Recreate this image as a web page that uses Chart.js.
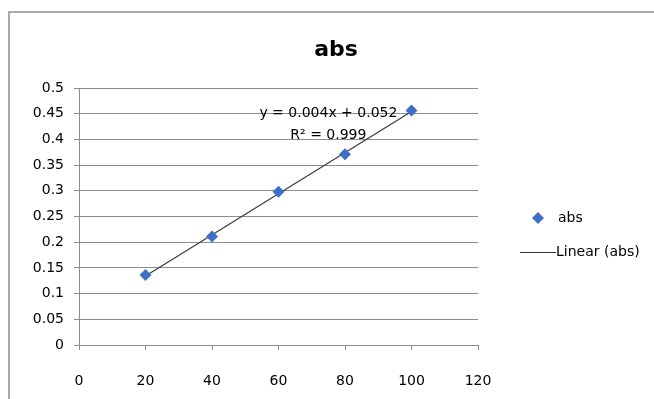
<!DOCTYPE html>
<html>
<head>
<meta charset="utf-8">
<script src="https://cdn.jsdelivr.net/npm/chart.js@4.4.0/dist/chart.umd.min.js"></script>
<style>
  body { margin: 0; background: #ffffff; }
  #wrap { position: relative; width: 654px; height: 399px; }
</style>
</head>
<body>
<div id="wrap"><canvas id="absChart" width="654" height="399"></canvas></div>
<script>
    // Données
    const concentrations = [20, 40, 60, 80, 100];
    const absValues = [0.136, 0.211, 0.298, 0.371, 0.456];
    const trendLabels = ['y = 0.004x + 0.052', 'R\u00b2 = 0.999'];
    const legendLabels = ['abs', 'Linear (abs)'];

    const FONT = "'DejaVu Sans', sans-serif";
    const GRID = '#8c8c8c';
    const BLUE = '#3d6fc8';

    // Régression linéaire (courbe de tendance)
    const n = concentrations.length;
    const mx = concentrations.reduce((a, b) => a + b, 0) / n;
    const my = absValues.reduce((a, b) => a + b, 0) / n;
    let sxy = 0, sxx = 0;
    concentrations.forEach((x, i) => {
        sxy += (x - mx) * (absValues[i] - my);
        sxx += (x - mx) * (x - mx);
    });
    const slope = sxy / sxx;
    const intercept = my - slope * mx;
    const xMin = Math.min(...concentrations);
    const xMax = Math.max(...concentrations);

    // Cadre, légende et équation
    const extras = {
        id: 'extras',
        beforeDraw(chart) {
            const ctx = chart.ctx;
            ctx.save();
            ctx.strokeStyle = '#a9a9a9';
            ctx.lineWidth = 2;
            ctx.beginPath();
            ctx.moveTo(9, 399);
            ctx.lineTo(9, 12);
            ctx.lineTo(654, 12);
            ctx.stroke();
            ctx.restore();
        },
        afterDraw(chart) {
            const ctx = chart.ctx;
            const xs = chart.scales.x, ys = chart.scales.y;
            ctx.save();
            ctx.fillStyle = '#000000';
            ctx.font = '14px ' + FONT;
            ctx.textAlign = 'center';
            ctx.textBaseline = 'middle';
            const cx = xs.getPixelForValue(75);
            ctx.fillText(trendLabels[0], cx, ys.getPixelForValue(0.4515));
            ctx.fillText(trendLabels[1], cx, ys.getPixelForValue(0.4085));

            // légende
            ctx.textAlign = 'left';
            ctx.fillStyle = BLUE;
            ctx.beginPath();
            ctx.moveTo(538, 212);
            ctx.lineTo(544, 218);
            ctx.lineTo(538, 224);
            ctx.lineTo(532, 218);
            ctx.closePath();
            ctx.fill();
            ctx.fillStyle = '#000000';
            ctx.fillText(legendLabels[0], 558, 218);
            ctx.strokeStyle = '#333333';
            ctx.lineWidth = 1;
            ctx.beginPath();
            ctx.moveTo(520, 252.5);
            ctx.lineTo(556, 252.5);
            ctx.stroke();
            ctx.fillText(legendLabels[1], 556, 252);
            ctx.restore();
        }
    };

    const ctx = document.getElementById('absChart').getContext('2d');
    const absChart = new Chart(ctx, {
        type: 'scatter',
        data: {
            datasets: [{
                label: 'Linear (abs)',
                data: [
                    { x: xMin, y: slope * xMin + intercept },
                    { x: xMax, y: slope * xMax + intercept }
                ],
                showLine: true,
                borderColor: '#3a3a3a',
                borderWidth: 1.2,
                pointRadius: 0,
                order: 2
            }, {
                label: 'abs',
                data: concentrations.map((x, i) => ({ x: x, y: absValues[i] })),
                pointStyle: 'rectRot',
                pointRadius: 6,
                pointHoverRadius: 6,
                backgroundColor: BLUE,
                borderColor: BLUE,
                borderWidth: 0,
                order: 1
            }]
        },
        options: {
            responsive: false,
            animation: false,
            devicePixelRatio: 1,
            layout: { padding: { left: 18, right: 0, top: 0, bottom: 0 } },
            plugins: {
                legend: { display: false },
                tooltip: { enabled: false },
                title: {
                    display: true,
                    text: 'abs',
                    color: '#000000',
                    font: { family: FONT, size: 22, weight: 'bold' },
                    padding: { top: 37, bottom: 24.6 }
                }
            },
            scales: {
                x: {
                    type: 'linear',
                    min: 0,
                    max: 120,
                    ticks: {
                        stepSize: 20,
                        color: '#000000',
                        padding: 23,
                        font: { family: FONT, size: 14 }
                    },
                    grid: {
                        drawOnChartArea: false,
                        drawTicks: true,
                        tickLength: 5,
                        color: GRID
                    },
                    border: { color: GRID },
                    afterFit(scale) { scale.height = 54; }
                },
                y: {
                    min: 0,
                    max: 0.5,
                    ticks: {
                        stepSize: 0.05,
                        color: '#000000',
                        padding: 10,
                        font: { family: FONT, size: 14 },
                        callback: value => String(parseFloat(value.toFixed(2)))
                    },
                    grid: {
                        color: GRID,
                        tickLength: 5
                    },
                    border: { color: GRID },
                    afterFit(scale) { scale.width = 61; }
                },
                y2: {
                    axis: 'y',
                    position: 'right',
                    ticks: { display: false },
                    grid: { display: false },
                    border: { display: false },
                    afterFit(scale) { scale.width = 176; }
                }
            }
        },
        plugins: [extras]
    });
</script>
</body>
</html>
